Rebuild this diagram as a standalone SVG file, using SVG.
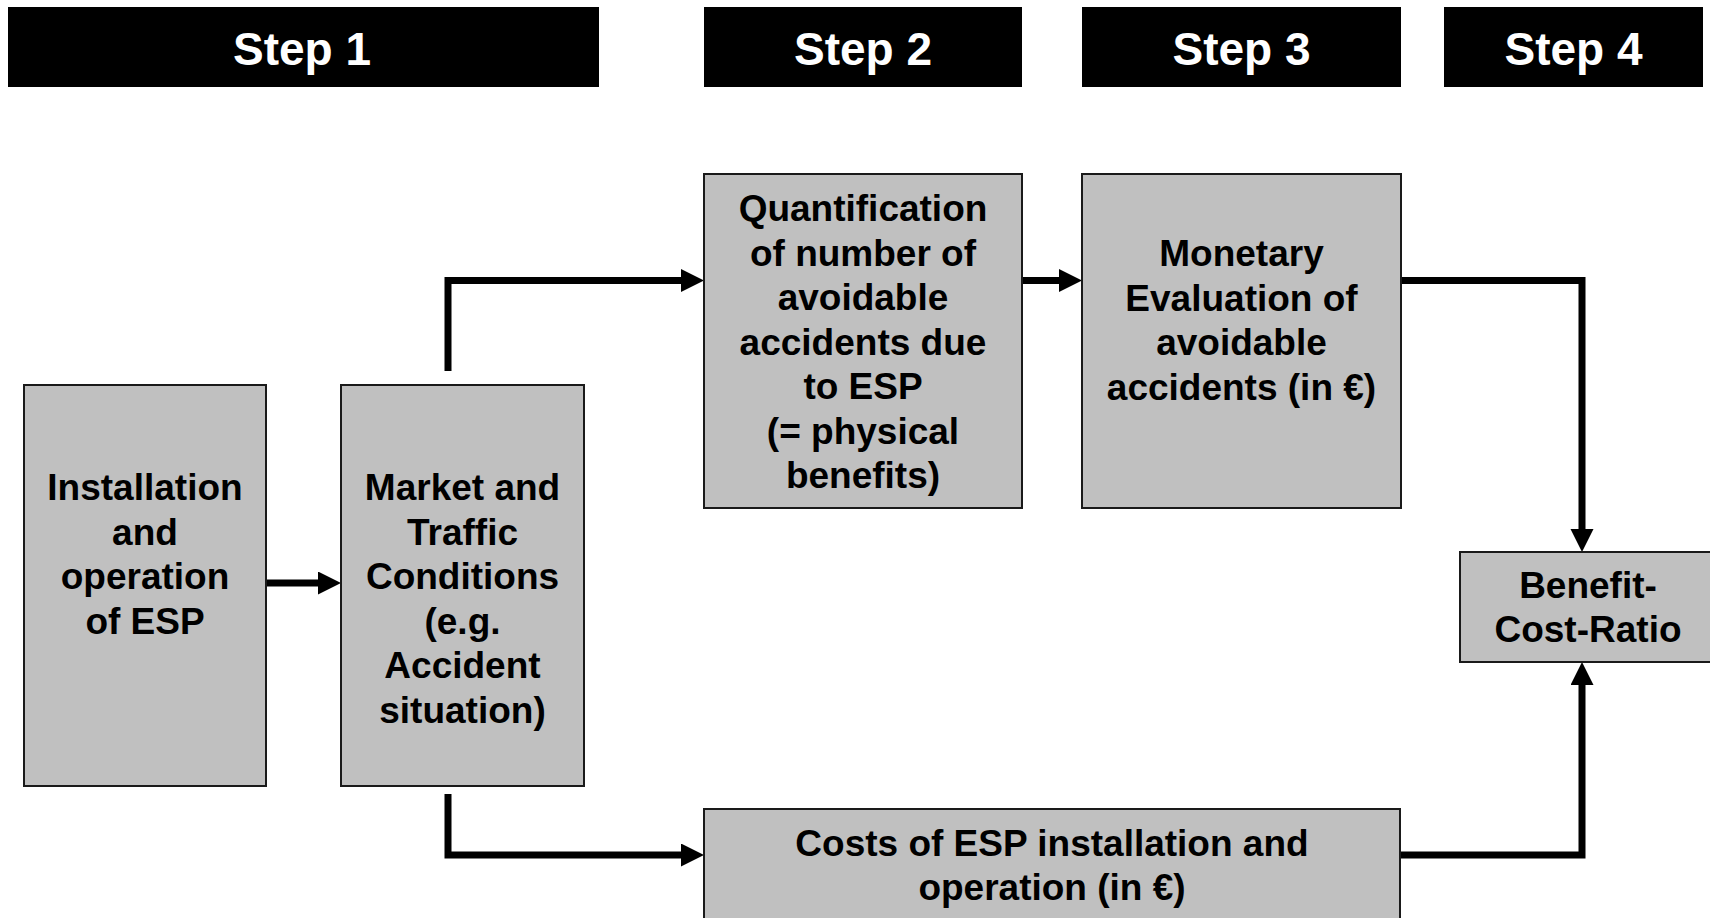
<svg xmlns="http://www.w3.org/2000/svg" width="1710" height="918" viewBox="0 0 1710 918">
<style>
.hdr{fill:#000}
.htxt{fill:#fff;font-family:"Liberation Sans",Arial,sans-serif;font-weight:bold;font-size:46px;text-anchor:middle}
.box{fill:#c0c0c0;stroke:#1a1a1a;stroke-width:2}
.txt{fill:#000;font-family:"Liberation Sans",Arial,sans-serif;font-weight:bold;font-size:37px;text-anchor:middle}
.con{fill:none;stroke:#000;stroke-width:7;stroke-linejoin:miter;marker-end:url(#arr)}
</style>
<defs>
<marker id="arr" markerUnits="userSpaceOnUse" markerWidth="24" markerHeight="24" refX="15" refY="11.5" orient="auto">
<path d="M0,0 L23,11.5 L0,23 z" fill="#000"/>
</marker>
</defs>
<g id="headers">
<g id="step1"><rect class="hdr" x="8" y="7" width="591" height="80"/><text class="htxt" x="302" y="65">Step 1</text></g>
<g id="step2"><rect class="hdr" x="704" y="7" width="318" height="80"/><text class="htxt" x="863" y="65">Step 2</text></g>
<g id="step3"><rect class="hdr" x="1082" y="7" width="319" height="80"/><text class="htxt" x="1241.5" y="65">Step 3</text></g>
<g id="step4"><rect class="hdr" x="1444" y="7" width="259" height="80"/><text class="htxt" x="1573.5" y="65">Step 4</text></g>
</g>
<g id="connectors">
<path class="con" d="M266,583 H333"/>
<path class="con" d="M448,371 V280.5 H696"/>
<path class="con" d="M1022,280.5 H1074"/>
<path class="con" d="M1401,280.5 H1582 V544"/>
<path class="con" d="M448,794 V855 H696"/>
<path class="con" d="M1400,855 H1582 V670"/>
</g>
<g id="installation">
<rect class="box" x="24" y="385" width="242" height="401"/>
<text class="txt"><tspan x="145" y="500">Installation</tspan><tspan x="145" y="544.5">and</tspan><tspan x="145" y="589">operation</tspan><tspan x="145" y="633.5">of ESP</tspan></text>
</g>
<g id="market">
<rect class="box" x="341" y="385" width="243" height="401"/>
<text class="txt"><tspan x="462.5" y="500">Market and</tspan><tspan x="462.5" y="544.5">Traffic</tspan><tspan x="462.5" y="589">Conditions</tspan><tspan x="462.5" y="633.5">(e.g.</tspan><tspan x="462.5" y="678">Accident</tspan><tspan x="462.5" y="722.5">situation)</tspan></text>
</g>
<g id="quantification">
<rect class="box" x="704" y="174" width="318" height="334"/>
<text class="txt"><tspan x="863" y="221">Quantification</tspan><tspan x="863" y="265.5">of number of</tspan><tspan x="863" y="310">avoidable</tspan><tspan x="863" y="354.5">accidents due</tspan><tspan x="863" y="399">to ESP</tspan><tspan x="863" y="443.5">(= physical</tspan><tspan x="863" y="488">benefits)</tspan></text>
</g>
<g id="monetary">
<rect class="box" x="1082" y="174" width="319" height="334"/>
<text class="txt"><tspan x="1241.5" y="266">Monetary</tspan><tspan x="1241.5" y="310.5">Evaluation of</tspan><tspan x="1241.5" y="355">avoidable</tspan><tspan x="1241.5" y="399.5">accidents (in €)</tspan></text>
</g>
<g id="benefit">
<rect class="box" x="1460" y="552" width="252" height="110"/>
<text class="txt"><tspan x="1588" y="598">Benefit-</tspan><tspan x="1588" y="642">Cost-Ratio</tspan></text>
</g>
<g id="costs">
<rect class="box" x="704" y="809" width="696" height="130"/>
<text class="txt"><tspan x="1052" y="856">Costs of ESP installation and</tspan><tspan x="1052" y="900">operation (in €)</tspan></text>
</g>
</svg>
